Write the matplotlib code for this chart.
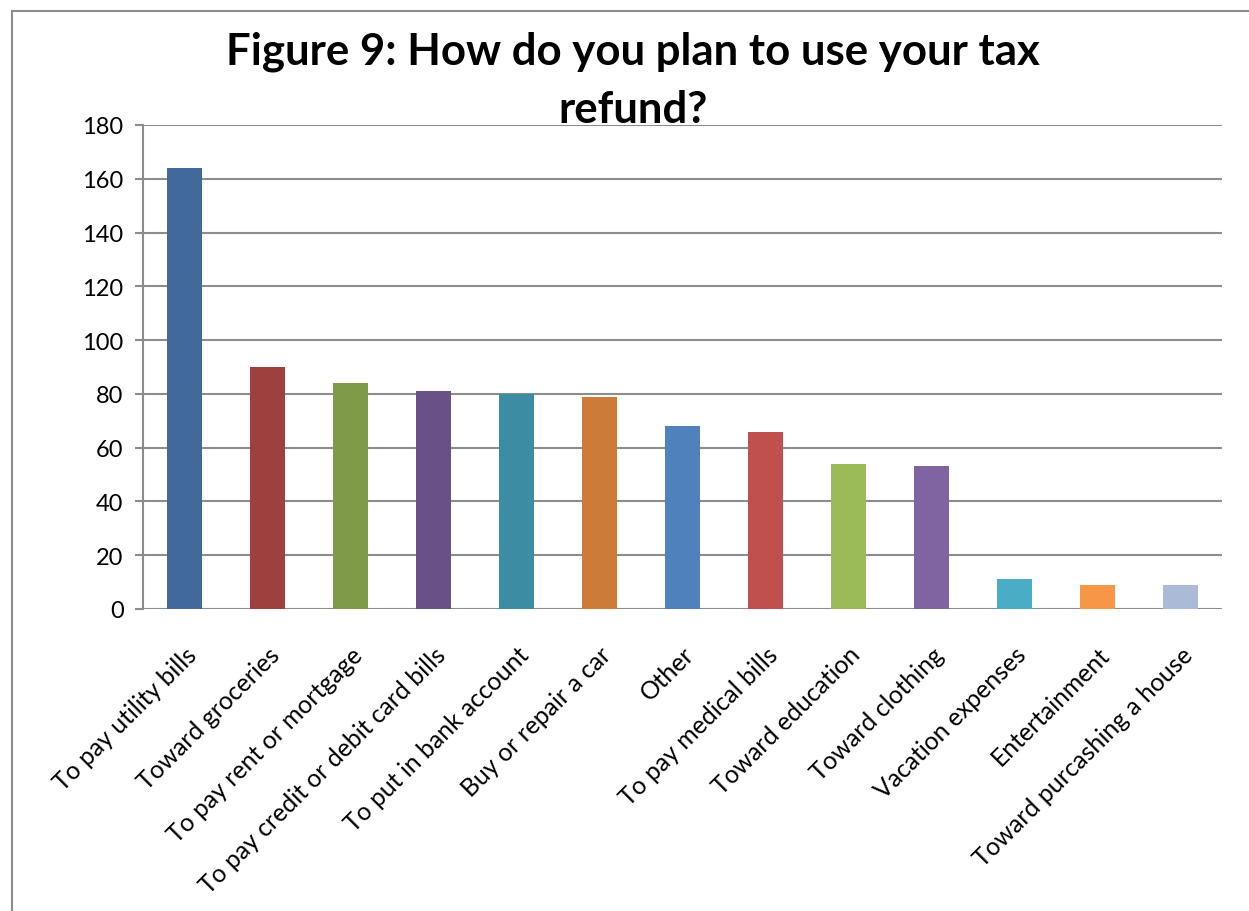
import matplotlib.pyplot as plt
from matplotlib.lines import Line2D

categories = [
    "To pay utility bills", "Toward groceries", "To pay rent or mortgage",
    "To pay credit or debit card bills", "To put in bank account",
    "Buy or repair a car", "Other", "To pay medical bills",
    "Toward education", "Toward clothing", "Vacation expenses",
    "Entertainment", "Toward purcashing a house",
]
counts = [164, 90, 84, 81, 80, 79, 68, 66, 54, 53, 11, 9, 9]
colors = [
    "#416A9B", "#9E413E", "#7F9A48", "#695185", "#3C8DA3", "#CC7B38",
    "#4F81BD", "#C0504D", "#9BBB59", "#8064A2", "#4BACC6", "#F79646",
    "#AABAD7",
]
yticks = [0, 20, 40, 60, 80, 100, 120, 140, 160, 180]

plt.rcParams["font.family"] = ["Lato", "DejaVu Sans"]

fig = plt.figure(figsize=(12.49, 9.12), dpi=100)
ax = fig.add_axes([143 / 1249, 1 - 610 / 912, (1222 - 143) / 1249, (610 - 126) / 912])

x = range(len(categories))
ax.bar(x, counts, width=0.41, color=colors, zorder=3)

ax.set_xlim(-0.5, len(categories) - 0.5)
ax.set_ylim(0, 180)
ax.set_yticks(yticks)
ax.yaxis.grid(True, color="#8C8C8C", linewidth=1.5, zorder=0)
ax.tick_params(axis="y", labelsize=17, length=6, width=1.5, color="#8C8C8C", pad=8)
ax.tick_params(axis="x", length=0, labelsize=17.8, pad=24)
ax.set_xticks(list(x))
ax.set_xticklabels(categories, rotation=45, ha="right", rotation_mode="anchor")

for s in ["top", "right", "bottom"]:
    ax.spines[s].set_visible(False)
ax.spines["left"].set_color("#8C8C8C")
ax.spines["left"].set_linewidth(1.5)

fig.text(0.507, 0.966, "Figure 9: How do you plan to use your tax\nrefund?",
         ha="center", va="top", fontsize=31.5, fontweight="bold", linespacing=1.55)

# chart frame (left and top edges visible)
fig.add_artist(Line2D([12 / 1249, 12 / 1249], [0, 1 - 12 / 912], color="#8C8C8C", linewidth=1.5))
fig.add_artist(Line2D([12 / 1249, 1], [1 - 12 / 912, 1 - 12 / 912], color="#8C8C8C", linewidth=1.5))

fig.savefig("out.png", dpi=100)
